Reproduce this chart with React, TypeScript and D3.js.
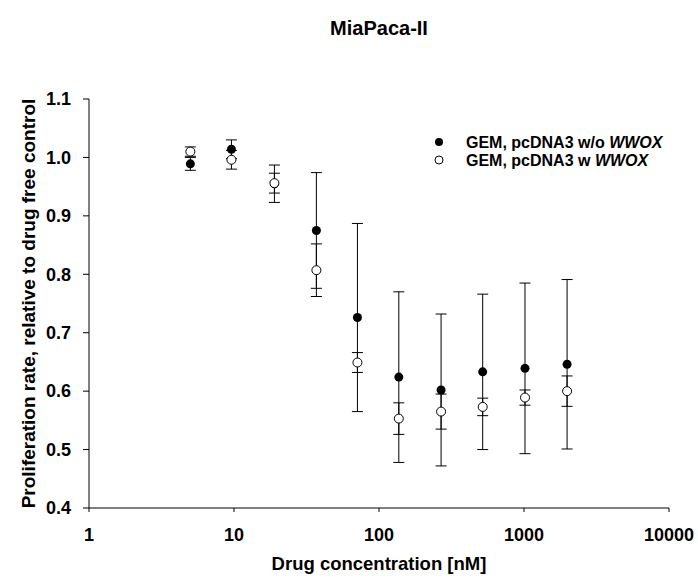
import React from "react";
import * as d3 from "d3";

const concentrations = [5, 9.6, 19, 37, 71, 137, 268, 519, 1016, 1982];
const withoutMean = [0.989, 1.014, 0.955, 0.875, 0.726, 0.624, 0.602, 0.633, 0.639, 0.646];
const withoutErr = [0.011, 0.016, 0.032, 0.099, 0.161, 0.146, 0.13, 0.133, 0.146, 0.145];
const withMean = [1.01, 0.996, 0.956, 0.807, 0.649, 0.553, 0.565, 0.573, 0.589, 0.6];
const withErr = [0.008, 0.016, 0.017, 0.045, 0.017, 0.027, 0.03, 0.015, 0.013, 0.026];
const xTicks = [1, 10, 100, 1000, 10000];
const yTicks = [0.4, 0.5, 0.6, 0.7, 0.8, 0.9, 1.0, 1.1];

const W = 698;
const H = 581;
const FONT = "'Liberation Sans', Arial, sans-serif";

export default function App() {
  const x = d3.scaleLog().domain([1, 10000]).range([89, 669]);
  const y = d3.scaleLinear().domain([0.4, 1.1]).range([508, 99]);
  const r = 4.5;
  const cap = 5.5;

  const errBars = (means: number[], errs: number[], key: string) =>
    concentrations.map((c, i) => {
      const cx = x(c);
      const y1 = y(means[i] + errs[i]);
      const y2 = y(means[i] - errs[i]);
      return (
        <g key={key + i} stroke="#000" strokeWidth={1}>
          <line x1={cx} x2={cx} y1={y1} y2={y2} />
          <line x1={cx - cap} x2={cx + cap} y1={y1} y2={y1} />
          <line x1={cx - cap} x2={cx + cap} y1={y2} y2={y2} />
        </g>
      );
    });

  return (
    <svg width={W} height={H} style={{ position: "absolute", left: 0, top: 0, background: "#fff" }}>
      <rect width={W} height={H} fill="#fff" />
      <text x={379} y={35} textAnchor="middle" fontFamily={FONT} fontWeight="bold" fontSize={20}>
        MiaPaca-II
      </text>
      {/* axes */}
      <line x1={89} x2={89} y1={99} y2={508} stroke="#000" strokeWidth={1} />
      <line x1={89} x2={669} y1={508} y2={508} stroke="#000" strokeWidth={1} />
      {yTicks.map((t) => (
        <g key={"yt" + t}>
          <line x1={83} x2={89} y1={y(t)} y2={y(t)} stroke="#000" />
          <text x={71} y={y(t)} dy="0.35em" textAnchor="end" fontFamily={FONT} fontWeight="bold" fontSize={18}>
            {t.toFixed(1)}
          </text>
        </g>
      ))}
      {xTicks.map((t) => (
        <g key={"xt" + t}>
          <line x1={x(t)} x2={x(t)} y1={508} y2={512} stroke="#000" />
          <text x={x(t)} y={541} textAnchor="middle" fontFamily={FONT} fontWeight="bold" fontSize={18}>
            {t}
          </text>
        </g>
      ))}
      <text x={379} y={570} textAnchor="middle" fontFamily={FONT} fontWeight="bold" fontSize={18.5}>
        Drug concentration [nM]
      </text>
      <text
        transform={`translate(35,${(99 + 508) / 2}) rotate(-90)`}
        textAnchor="middle"
        fontFamily={FONT}
        fontWeight="bold"
        fontSize={19}
      >
        Proliferation rate, relative to drug free control
      </text>
      {errBars(withoutMean, withoutErr, "wo")}
      {errBars(withMean, withErr, "w")}
      {concentrations.map((c, i) => (
        <circle key={"f" + i} cx={x(c)} cy={y(withoutMean[i])} r={r} fill="#000" />
      ))}
      {concentrations.map((c, i) => (
        <circle key={"o" + i} cx={x(c)} cy={y(withMean[i])} r={r} fill="#fff" stroke="#000" strokeWidth={1} />
      ))}
      {/* legend */}
      <circle cx={439} cy={142} r={4} fill="#000" />
      <circle cx={439} cy={160} r={4} fill="#fff" stroke="#000" />
      <text x={466} y={142} dy="0.35em" fontFamily={FONT} fontWeight="bold" fontSize={16}>
        GEM, pcDNA3 w/o <tspan fontStyle="italic">WWOX</tspan>
      </text>
      <text x={466} y={160} dy="0.35em" fontFamily={FONT} fontWeight="bold" fontSize={16}>
        GEM, pcDNA3 w <tspan fontStyle="italic">WWOX</tspan>
      </text>
    </svg>
  );
}
